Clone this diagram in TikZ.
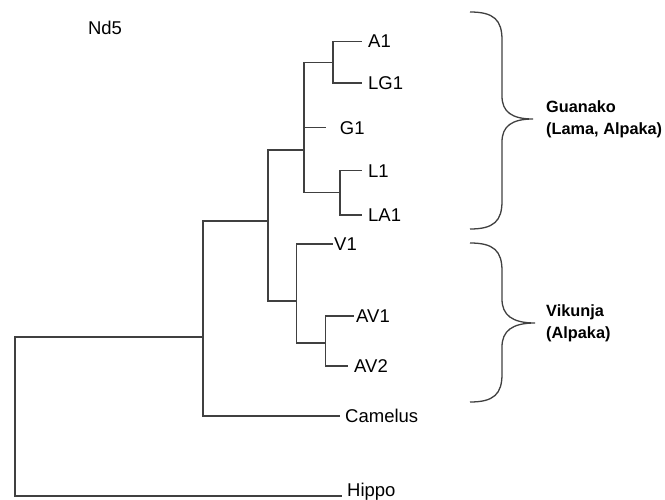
\documentclass[tikz,border=0pt]{standalone}
\usepackage{fontspec}
\setmainfont{Liberation Sans}
\usetikzlibrary{positioning}

\tikzset{
  cabang/.style={line width=1.3pt, black!75},
  kurung/.style={line width=1.3pt, black!75},
  daun/.style={anchor=west, inner xsep=6pt, inner ysep=1pt, font=\fontsize{18.5}{20}\selectfont},
  grup/.style={anchor=west, align=left, inner sep=2pt, font=\bfseries\fontsize{16.3}{22}\selectfont},
}

\begin{document}
\begin{tikzpicture}[x=1pt, y=-1pt]
    \useasboundingbox (0,0) rectangle (665,500);

    % Judul pohon
    \node[daun, anchor=center] (judul) at (105,28) {Nd5};

    % Titik percabangan
    \coordinate (nA)   at (333,62.7);
    \coordinate (nL)   at (340,192.7);
    \coordinate (nG)   at (304,150);
    \coordinate (nAV)  at (325.7,343);
    \coordinate (nV)   at (296.7,301);
    \coordinate (nLam) at (268,221);
    \coordinate (nCam) at (203,337);
    \coordinate (akar) at (15,416);

    % Daun
    \node[daun] (a1)  at (362,41.5) {A1};
    \node[daun] (lg1) at (362,83) {LG1};
    \node[daun, inner xsep=14pt] (g1) at (325.7,127.7) {G1};
    \node[daun] (l1)  at (362,170.7) {L1};
    \node[daun] (la1) at (362,215) {LA1};
    \node[daun, inner xsep=1pt] (v1) at (333,244) {V1};
    \node[daun, inner xsep=2pt] (av1) at (354,316) {AV1};
    \node[daun] (av2) at (348,366) {AV2};
    \node[daun, inner xsep=5pt] (camelus) at (340,416) {Camelus};
    \node[daun, anchor=base west, inner xsep=5pt] (hippo) at (342,496) {Hippo};

    % Garis cabang
    \draw[cabang] (nA) |- (a1.west);
    \draw[cabang] (nA) |- (lg1.west);
    \draw[cabang] (nL) |- (l1.west);
    \draw[cabang] (nL) |- (la1.west);
    \draw[cabang] (nG) |- (nA);
    \draw[cabang] (nG) |- (g1.west);
    \draw[cabang] (nG) |- (nL);
    \draw[cabang] (nAV) |- (av1.west);
    \draw[cabang] (nAV) |- (av2.west);
    \draw[cabang] (nV) |- (v1.west);
    \draw[cabang] (nV) |- (nAV);
    \draw[cabang] (nLam) |- (nG);
    \draw[cabang] (nLam) |- (nV);
    \draw[cabang] (nCam) |- (nLam);
    \draw[cabang] (nCam) |- (camelus.west);
    \draw[cabang] (akar) |- (nCam);
    \draw[cabang] (akar) |- (hippo.base west);

    % Kurung kurawal Guanako
    \coordinate (bG1) at (470,12);
    \coordinate (bG2) at (470,229);
    \coordinate (tipG) at (533,119);
    \draw[kurung] (bG1) .. controls (494,12) and (502,20) .. (502,40)
        -- (502,96) .. controls (502,112) and (512,119) .. (tipG)
        .. controls (512,119) and (502,126) .. (502,142)
        -- (502,201) .. controls (502,221) and (494,229) .. (bG2);
    \node[grup, right=11pt of tipG] (guanako) {Guanako\\(Lama, Alpaka)};

    % Kurung kurawal Vikunja
    \coordinate (bV1) at (470,243);
    \coordinate (bV2) at (470,402);
    \coordinate (tipV) at (535,323);
    \draw[kurung] (bV1) .. controls (494,243) and (502,251) .. (502,271)
        -- (502,299) .. controls (502,315) and (512,323) .. (tipV)
        .. controls (512,323) and (502,331) .. (502,347)
        -- (502,374) .. controls (502,394) and (494,402) .. (bV2);
    \node[grup, right=9pt of tipV] (vikunja) {Vikunja\\(Alpaka)};

\end{tikzpicture}
\end{document}
